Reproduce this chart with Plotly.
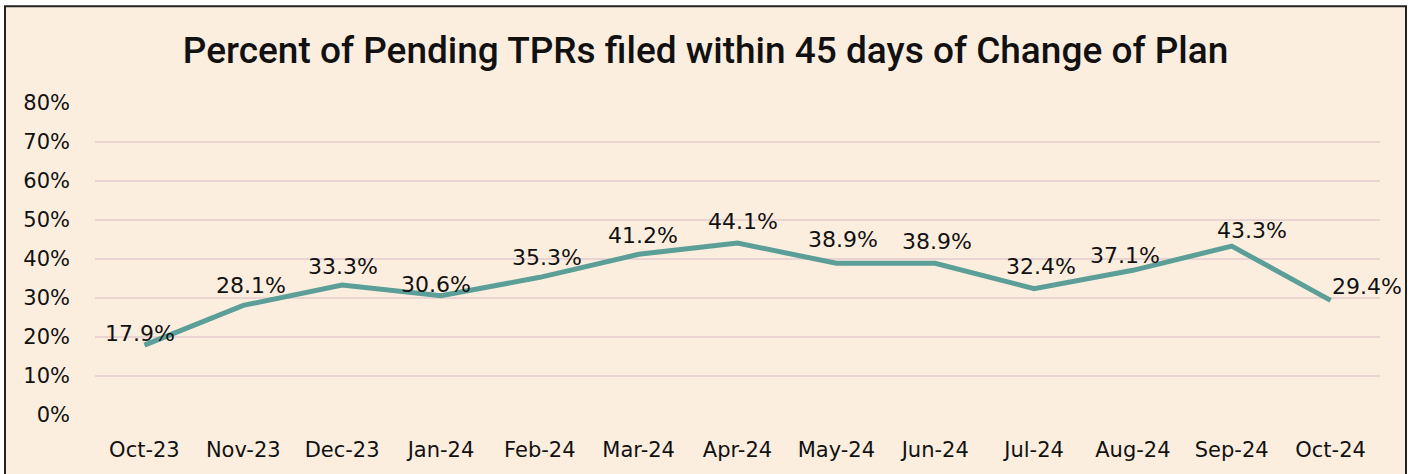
import plotly.graph_objects as go

months = ["Oct-23", "Nov-23", "Dec-23", "Jan-24", "Feb-24", "Mar-24", "Apr-24",
          "May-24", "Jun-24", "Jul-24", "Aug-24", "Sep-24", "Oct-24"]
pct_filed = [0.179, 0.281, 0.333, 0.306, 0.353, 0.412, 0.441,
             0.389, 0.389, 0.324, 0.371, 0.433, 0.294]
y_ticks = [0, 0.1, 0.2, 0.3, 0.4, 0.5, 0.6, 0.7, 0.8]

# label placement offsets in pixels (as positioned in the original chart)
label_dx = [-4, 8, 1, -5, 7, 4, 5, 7, 2, 7, -8, 20, 36]
label_dy = [12, 20, 19, 11, 20, 19, 22, 24, 22, 22, 15, 16, 14]

W, H = 1411, 474
L, R, T, B = 95, 31, 103, 55
pw, ph = W - L - R, H - T - B

fig = go.Figure()
fig.add_trace(go.Scatter(
    x=list(range(len(months))), y=pct_filed,
    mode="lines",
    line=dict(color="#5B9F98", width=5),
    hoverinfo="skip",
))

for i, v in enumerate(pct_filed):
    fig.add_annotation(x=i, y=v, xref="x", yref="y",
                       text=f"{v*100:.1f}%", showarrow=False,
                       xanchor="center", yanchor="middle",
                       xshift=label_dx[i], yshift=label_dy[i],
                       font=dict(family="DejaVu Sans", size=22, color="#111111"))

fig.add_shape(type="rect", xref="paper", yref="paper",
              x0=(5 - L) / pw, x1=(1406 - L) / pw,
              y0=-0.5, y1=(H - B - 5) / ph,
              fillcolor="#FCEEDF", line=dict(color="#222222", width=2),
              layer="below")

fig.update_layout(
    width=W, height=H,
    margin=dict(l=L, r=R, t=T, b=B),
    paper_bgcolor="white",
    plot_bgcolor="rgba(0,0,0,0)",
    showlegend=False,
    title=dict(text="Percent of Pending TPRs filed within 45 days of Change of Plan",
               x=0.5, xanchor="center", y=1 - 50 / H, yanchor="middle",
               font=dict(family="Roboto", size=37, weight=500, color="#111111")),
    xaxis=dict(range=[-0.5, len(months) - 0.5], tickmode="array",
               tickvals=list(range(len(months))), ticktext=months,
               showgrid=False, zeroline=False, showline=False,
               tickfont=dict(family="DejaVu Sans", size=21, color="#111111"),
               ticklabelstandoff=20),
    yaxis=dict(range=[0, 0.8], tickmode="array", tickvals=y_ticks,
               ticktext=[f"{int(v*100)}%" for v in y_ticks],
               showgrid=True, gridcolor="#E9D3D3", gridwidth=2,
               zeroline=False, showline=False,
               tickfont=dict(family="DejaVu Sans", size=21, color="#111111"),
               ticklabelstandoff=24),
)

fig.write_html("out.html", config={"displayModeBar": False},
               post_script="document.body.style.margin='0';document.body.style.padding='0';")
